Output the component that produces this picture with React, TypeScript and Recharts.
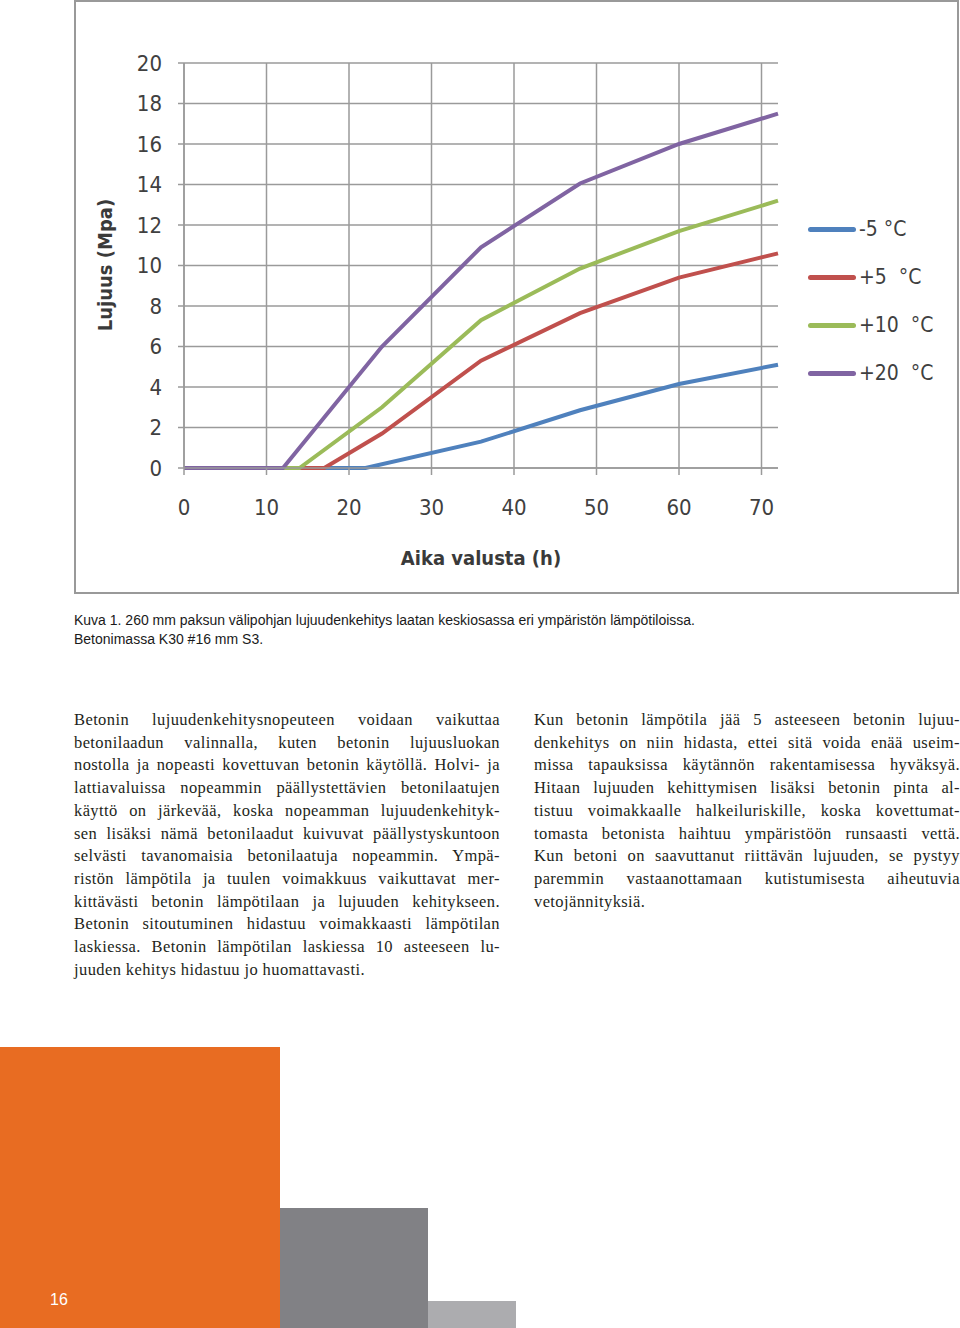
import { LineChart, Line, XAxis, YAxis, CartesianGrid, Legend } from "recharts";

// Lujuus (MPa) eri lämpötiloissa, aika valusta (h)
const hours = [0, 12, 14, 17, 22, 24, 36, 48, 60, 72];
const minus5 = [0, null, null, null, 0, null, 1.3, 2.85, 4.15, 5.1];
const plus5 = [0, null, null, 0, null, 1.7, 5.3, 7.65, 9.4, 10.6];
const plus10 = [0, null, 0, null, null, 3.0, 7.3, 9.85, 11.7, 13.2];
const plus20 = [0, 0, null, null, null, 6.0, 10.9, 14.05, 16.0, 17.5];

const seriesNames = ["-5 °C", "+5  °C", "+10  °C", "+20  °C"];
const seriesColors = ["#4F81BD", "#C0504D", "#9BBB59", "#8064A2"];
const xTicks = [0, 10, 20, 30, 40, 50, 60, 70];
const yTicks = [0, 2, 4, 6, 8, 10, 12, 14, 16, 18, 20];

const data = hours.map((h, i) => ({
  h,
  s0: minus5[i],
  s1: plus5[i],
  s2: plus10[i],
  s3: plus20[i],
}));

const leftLines = [
  "Betonin lujuudenkehitysnopeuteen voidaan vaikuttaa",
  "betonilaadun valinnalla, kuten betonin lujuusluokan",
  "nostolla ja nopeasti kovettuvan betonin käytöllä. Holvi- ja",
  "lattiavaluissa nopeammin päällystettävien betonilaatujen",
  "käyttö on järkevää, koska nopeamman lujuudenkehityk-",
  "sen lisäksi nämä betonilaadut kuivuvat päällystyskuntoon",
  "selvästi tavanomaisia betonilaatuja nopeammin. Ympä-",
  "ristön lämpötila ja tuulen voimakkuus vaikuttavat mer-",
  "kittävästi betonin lämpötilaan ja lujuuden kehitykseen.",
  "Betonin sitoutuminen hidastuu voimakkaasti lämpötilan",
  "laskiessa. Betonin lämpötilan laskiessa 10 asteeseen lu-",
  "juuden kehitys hidastuu jo huomattavasti.",
];

const rightLines = [
  "Kun betonin lämpötila jää 5 asteeseen betonin lujuu-",
  "denkehitys on niin hidasta, ettei sitä voida enää useim-",
  "missa tapauksissa käytännön rakentamisessa hyväksyä.",
  "Hitaan lujuuden kehittymisen lisäksi betonin pinta al-",
  "tistuu voimakkaalle halkeiluriskille, koska kovettumat-",
  "tomasta betonista haihtuu ympäristöön runsaasti vettä.",
  "Kun betoni on saavuttanut riittävän lujuuden, se pystyy",
  "paremmin vastaanottamaan kutistumisesta aiheutuvia",
  "vetojännityksiä.",
];

const CHART_FONT = "'Liberation Sans Narrow', 'DejaVu Sans Condensed', Roboto, sans-serif";
const GRID = "#9a9a9a";

function Column({ lines, left }: { lines: string[]; left: number }) {
  return (
    <div style={{ position: "absolute", left, top: 709, width: 426, fontFamily: "'Liberation Serif', serif", fontSize: 16.5, letterSpacing: 0.4, lineHeight: "22.7px", color: "#231f20" }}>
      {lines.map((l, i) => (
        <div key={i} style={{ whiteSpace: "nowrap", textAlign: "justify", textAlignLast: i === lines.length - 1 ? "left" : "justify" }}>
          {l}
        </div>
      ))}
    </div>
  );
}

function LegendBox(props: any) {
  const items = [...(props.payload ?? [])].sort(
    (a: any, b: any) => seriesNames.indexOf(a.value) - seriesNames.indexOf(b.value)
  );
  return (
    <div style={{ fontFamily: CHART_FONT, fontSize: 21, color: "#404040" }}>
      {items.map((it: any, i: number) => (
        <div key={i} style={{ display: "flex", alignItems: "center", height: 48 }}>
          <span style={{ display: "inline-block", width: 48, height: 5, borderRadius: 3, background: it.color, marginRight: 3 }} />
          <span style={{ whiteSpace: "pre" }}>{it.value}</span>
        </div>
      ))}
    </div>
  );
}

const titleStyle = { fontFamily: CHART_FONT, fontSize: 20, fontWeight: 700, fill: "#3a3a3a" };

export default function App() {
  return (
    <div style={{ position: "absolute", left: 0, top: 0, width: 960, height: 1328, overflow: "hidden", background: "#fff" }}>
      <div style={{ position: "absolute", left: 74, top: 0, width: 885, height: 594, border: "2px solid #999", boxSizing: "border-box" }} />
      <div style={{ position: "absolute", left: 0, top: 0 }}>
        <LineChart width={959} height={594} data={data} margin={{ top: 63, right: 181, bottom: 46, left: 84 }}>
          <CartesianGrid stroke={GRID} strokeWidth={1.5} horizontalValues={yTicks} verticalValues={xTicks} />
          <XAxis
            dataKey="h"
            type="number"
            domain={[0, 72]}
            ticks={xTicks}
            height={80}
            tickSize={7}
            tickMargin={24}
            axisLine={{ stroke: GRID, strokeWidth: 1.5 }}
            tickLine={{ stroke: GRID, strokeWidth: 1.5 }}
            tick={{ fontSize: 22, fill: "#404040", fontFamily: CHART_FONT }}
            label={{
              content: (p: any) => {
                const vb = p.viewBox;
                return (
                  <text x={vb.x + vb.width / 2} y={vb.y + 90} textAnchor="middle" dominantBaseline="central" style={titleStyle}>
                    Aika valusta (h)
                  </text>
                );
              },
            }}
          />
          <YAxis
            type="number"
            domain={[0, 20]}
            ticks={yTicks}
            width={100}
            tickSize={6}
            tickMargin={16}
            axisLine={{ stroke: GRID, strokeWidth: 1.5 }}
            tickLine={{ stroke: GRID, strokeWidth: 1.5 }}
            tick={{ fontSize: 22, fill: "#404040", fontFamily: CHART_FONT }}
            label={{
              content: (p: any) => {
                const vb = p.viewBox;
                const x = vb.x + 21;
                const y = vb.y + 202;
                return (
                  <text x={x} y={y} transform={`rotate(-90, ${x}, ${y})`} textAnchor="middle" dominantBaseline="central" style={titleStyle}>
                    Lujuus (Mpa)
                  </text>
                );
              },
            }}
          />
          <Legend layout="horizontal" verticalAlign="middle" align="center" wrapperStyle={{ left: 808, top: 205, width: 150 }} content={LegendBox} />
          {seriesNames.map((n, i) => (
            <Line key={n} dataKey={`s${i}`} name={n} stroke={seriesColors[i]} strokeWidth={4} dot={false}
              connectNulls isAnimationActive={false} />
          ))}
        </LineChart>
      </div>

      <div style={{ position: "absolute", left: 74, top: 611, fontFamily: "'Liberation Sans', Arial, sans-serif", fontSize: 14, lineHeight: "19px", color: "#1a1a1a" }}>
        <div>Kuva 1. 260 mm paksun välipohjan lujuudenkehitys laatan keskiosassa eri ympäristön lämpötiloissa.</div>
        <div>Betonimassa K30 #16 mm S3.</div>
      </div>

      <Column lines={leftLines} left={74} />
      <Column lines={rightLines} left={534} />

      <div style={{ position: "absolute", left: 0, top: 1047, width: 280, height: 281, background: "#E86C22" }} />
      <div style={{ position: "absolute", left: 280, top: 1208, width: 148, height: 120, background: "#818185" }} />
      <div style={{ position: "absolute", left: 428, top: 1301, width: 88, height: 27, background: "#ACACAF" }} />
      <div style={{ position: "absolute", left: 50, top: 1290, fontFamily: "'Liberation Sans', Arial, sans-serif", fontSize: 16, lineHeight: "20px", color: "#fff" }}>16</div>
    </div>
  );
}
